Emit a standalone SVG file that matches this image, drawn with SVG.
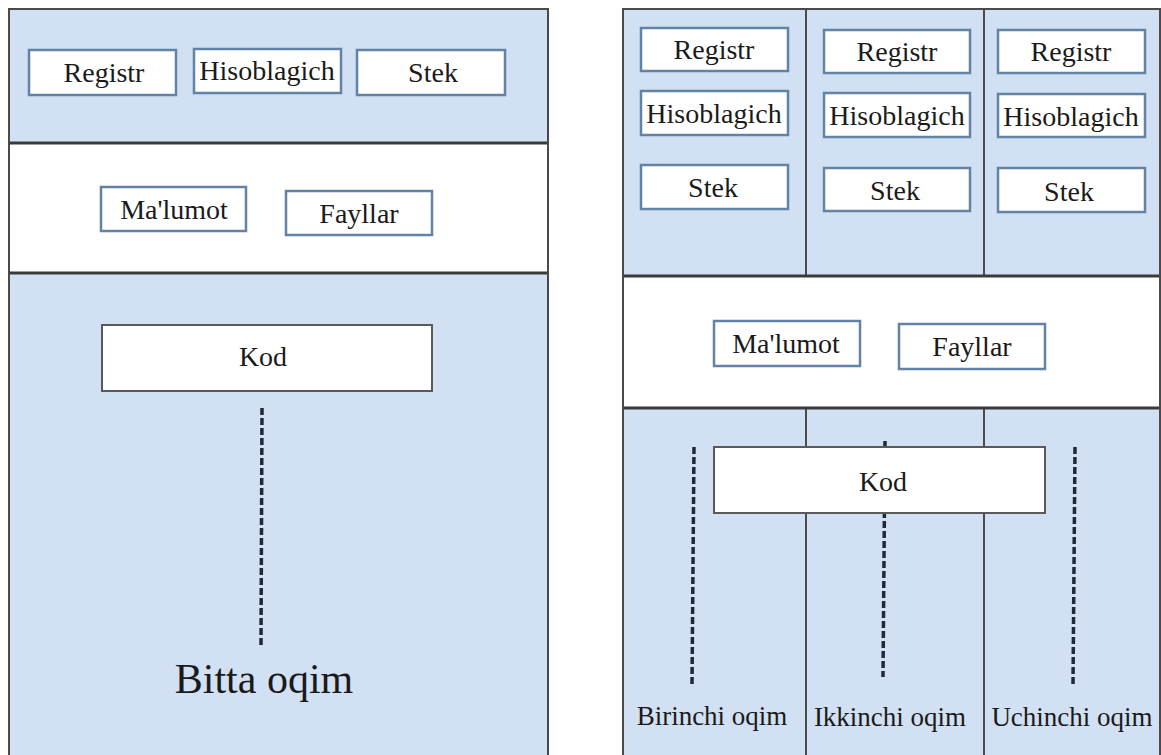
<svg xmlns="http://www.w3.org/2000/svg" width="1161" height="755" viewBox="0 0 1161 755">
  <style>
    .band { fill: #d1e0f3; }
    .white { fill: #ffffff; }
    .frame { fill: none; stroke: #4a4a4a; stroke-width: 2; }
    .divider { stroke: #3a3a3a; stroke-width: 3; }
    .col { stroke: #4a4a4a; stroke-width: 2; }
    .box { fill: #ffffff; stroke: #6283a6; stroke-width: 2.5; }
    .kod { fill: #ffffff; stroke: #5a5a5a; stroke-width: 2; }
    .lbl { font-family: "Liberation Serif", "DejaVu Serif", serif; fill: #1a1a1a; text-anchor: middle; }
    .t28 { font-size: 28px; }
    .t26 { font-size: 27px; }
    .t40 { font-size: 42px; }
    .thread { stroke: #1e2a3a; stroke-width: 3.5; stroke-dasharray: 7 3; fill: none; }
  </style>

  <rect width="1161" height="755" fill="#ffffff"/>

  <!-- Single-threaded process -->
  <g id="single-process">
    <rect class="band" x="9" y="9" width="539" height="134"/>
    <rect class="white" x="9" y="143" width="539" height="130"/>
    <rect class="band" x="9" y="273" width="539" height="482"/>
    <line class="divider" x1="9" y1="143" x2="548" y2="143"/>
    <line class="divider" x1="9" y1="273" x2="548" y2="273"/>
    <path class="frame" d="M9,755 V9 H548 V755"/>
  </g>

  <g id="s-registr">
    <rect class="box" x="29" y="50" width="147" height="45"/>
    <text class="lbl t28" x="104" y="82">Registr</text>
  </g>
  <g id="s-hisoblagich">
    <rect class="box" x="194" y="49" width="147" height="44"/>
    <text class="lbl t28" x="267" y="80">Hisoblagich</text>
  </g>
  <g id="s-stek">
    <rect class="box" x="357" y="50" width="148" height="45"/>
    <text class="lbl t28" x="433" y="82">Stek</text>
  </g>
  <g id="s-malumot">
    <rect class="box" x="101" y="187" width="145" height="44"/>
    <text class="lbl t28" x="174" y="219">Ma'lumot</text>
  </g>
  <g id="s-fayllar">
    <rect class="box" x="286" y="191" width="146" height="44"/>
    <text class="lbl t28" x="359" y="223">Fayllar</text>
  </g>
  <g id="s-kod">
    <rect class="kod" x="102" y="325" width="330" height="66"/>
    <text class="lbl t28" x="263" y="366">Kod</text>
  </g>
  <g id="s-label">
    <text class="lbl t40" x="264" y="693">Bitta oqim</text>
  </g>

  <!-- Multi-threaded process -->
  <g id="multi-process">
    <rect class="band" x="623" y="9" width="538" height="267"/>
    <rect class="white" x="623" y="276" width="538" height="132"/>
    <rect class="band" x="623" y="408" width="538" height="347"/>
    <line class="col" x1="806" y1="9" x2="806" y2="276"/>
    <line class="col" x1="984" y1="9" x2="984" y2="276"/>
    <line class="col" x1="806" y1="408" x2="806" y2="755"/>
    <line class="col" x1="984" y1="408" x2="984" y2="755"/>
    <line class="divider" x1="623" y1="276" x2="1161" y2="276"/>
    <line class="divider" x1="623" y1="408" x2="1161" y2="408"/>
    <path class="frame" d="M623,755 V9 H1160 V755"/>
  </g>

  <g id="t1-registr">
    <rect class="box" x="641" y="28" width="147" height="43"/>
    <text class="lbl t28" x="714" y="59">Registr</text>
  </g>
  <g id="t1-hisoblagich">
    <rect class="box" x="641" y="91" width="147" height="44"/>
    <text class="lbl t28" x="714" y="123">Hisoblagich</text>
  </g>
  <g id="t1-stek">
    <rect class="box" x="641" y="165" width="147" height="44"/>
    <text class="lbl t28" x="713" y="197">Stek</text>
  </g>

  <g id="t2-registr">
    <rect class="box" x="824" y="30" width="146" height="43"/>
    <text class="lbl t28" x="897" y="61">Registr</text>
  </g>
  <g id="t2-hisoblagich">
    <rect class="box" x="824" y="93" width="146" height="44"/>
    <text class="lbl t28" x="897" y="125">Hisoblagich</text>
  </g>
  <g id="t2-stek">
    <rect class="box" x="824" y="168" width="146" height="43"/>
    <text class="lbl t28" x="895" y="200">Stek</text>
  </g>

  <g id="t3-registr">
    <rect class="box" x="998" y="30" width="147" height="43"/>
    <text class="lbl t28" x="1071" y="61">Registr</text>
  </g>
  <g id="t3-hisoblagich">
    <rect class="box" x="998" y="94" width="147" height="43"/>
    <text class="lbl t28" x="1071" y="126">Hisoblagich</text>
  </g>
  <g id="t3-stek">
    <rect class="box" x="998" y="168" width="147" height="44"/>
    <text class="lbl t28" x="1069" y="201">Stek</text>
  </g>

  <g id="m-malumot">
    <rect class="box" x="714" y="321" width="146" height="45"/>
    <text class="lbl t28" x="786" y="353">Ma'lumot</text>
  </g>
  <g id="m-fayllar">
    <rect class="box" x="899" y="324" width="146" height="45"/>
    <text class="lbl t28" x="972" y="356">Fayllar</text>
  </g>

  <!-- Thread lines -->
  <g id="threads">
    <line class="thread" x1="262" y1="408" x2="261" y2="647"/>
    <line class="thread" x1="694" y1="447" x2="692" y2="685"/>
    <line class="thread" x1="885" y1="441" x2="883" y2="677"/>
    <line class="thread" x1="1075" y1="447" x2="1073" y2="685"/>
  </g>

  <g id="m-kod">
    <rect class="kod" x="714" y="447" width="331" height="66"/>
    <text class="lbl t28" x="883" y="491">Kod</text>
  </g>

  <g id="thread-labels">
    <text class="lbl t26" x="712" y="725">Birinchi oqim</text>
    <text class="lbl t26" x="890" y="726">Ikkinchi oqim</text>
    <text class="lbl t26" x="1072" y="726">Uchinchi oqim</text>
  </g>
</svg>
